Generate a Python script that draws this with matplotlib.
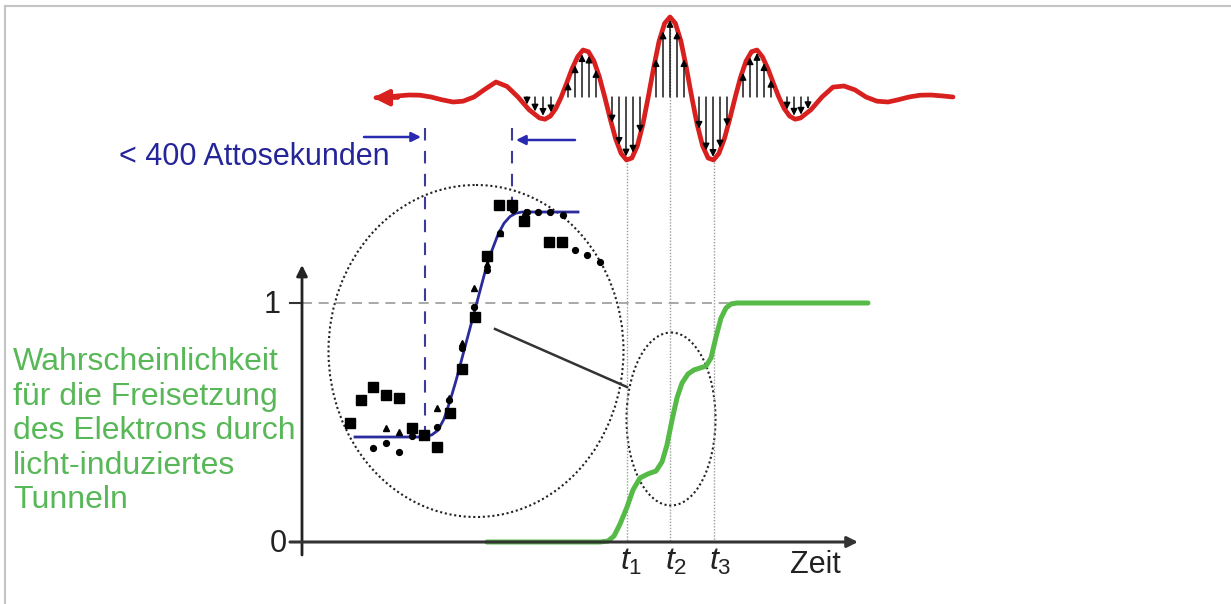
import matplotlib
matplotlib.use("Agg")
import matplotlib.pyplot as plt
import numpy as np
from matplotlib.patches import Ellipse

plt.rcParams['font.family'] = ['Liberation Sans', 'DejaVu Sans']
plt.rcParams['mathtext.fontset'] = 'custom'
plt.rcParams['mathtext.it'] = 'Liberation Sans:italic'
plt.rcParams['mathtext.rm'] = 'Liberation Sans'

# ---------------- data ----------------
# light-wave (field) samples, x = time position (px), y = field (px, 97 = zero)
wave_x = [376, 387, 398, 409, 420, 431, 442, 453, 463, 474, 485, 496, 507, 518, 529,
          539.5, 545.0, 550.4, 555.8, 561.25, 566.7, 572.1, 577.6, 583.0, 588.4, 593.9, 599.3,
          604.75, 610.2, 615.6, 621.1, 626.5, 631.9, 637.4, 642.8, 648.25, 653.7, 659.1, 664.6,
          670, 675.4, 680.9, 686.3, 691.75, 697.2, 702.6, 708.1, 713.5, 718.9, 724.4, 729.8,
          735.25, 740.7, 746.1, 751.6, 757, 762.4, 767.9, 773.3, 778.75, 784.2, 789.6, 795.1, 800.5,
          811, 822, 833, 844, 855, 866, 877, 888, 898, 909, 920, 931, 942, 953]
wave_y = [97.7, 97, 95.9, 95, 95.2, 97, 99.8, 102, 101.2, 97, 89.2, 82, 86.4, 97, 109.7,
          118, 119.2, 116.1, 108.5, 97, 83, 68.7, 56.8, 50, 51.7, 61, 76.7,
          97, 118.8, 138.7, 153.4, 160, 158, 145.8, 124.6, 97, 67.5, 41.1, 23.4,
          17, 23.4, 41.1, 67.5, 97, 124.6, 145.8, 158, 160, 153.4, 138.7, 118.8,
          97, 76.7, 61, 51.7, 50, 56.8, 68.7, 83, 97, 108.5, 116.1, 119.2, 118,
          109.7, 97, 87.1, 86, 89.9, 97, 101.2, 102, 99.8, 97, 95.2, 95, 95.9, 97]
wave_zero = 97
field_arrow_x = [527, 535, 543, 551,
                 568, 575, 582, 589, 596,
                 612, 619, 626, 633, 640,
                 656, 663, 670, 677, 684,
                 699, 706, 713, 720, 727,
                 743, 750, 757, 764, 771,
                 787, 794, 801, 808, 815]
t_marks = [627, 670, 714]
t_labels = [r'$t_1$', r'$t_2$', r'$t_3$']

# tunnelling probability (green), time in px, probability 0..1
green_t = [487, 600, 608, 614, 620, 627, 633, 640, 648, 656, 662, 667, 672, 677, 682,
           688, 694, 700, 706, 711, 716, 721, 726, 731, 737, 868]
green_p = [0, 0, 0.004, 0.025, 0.075, 0.146, 0.218, 0.268, 0.285, 0.297, 0.335, 0.406,
           0.51, 0.603, 0.665, 0.703, 0.72, 0.728, 0.736, 0.77, 0.858, 0.937, 0.979,
           0.996, 1.0, 1.0]

# inset: measured step (normalised signal 0..1)
fit_x = [355, 425, 432, 438, 444, 450, 456, 462, 468, 474, 480, 486, 492, 498, 504,
         510, 516, 522, 530, 578]
fit_s = [0, 0, 0.01, 0.03, 0.08, 0.16, 0.25, 0.35, 0.45, 0.55, 0.65, 0.75, 0.83, 0.9,
         0.95, 0.98, 0.995, 1.0, 1.0, 1.0]
sq_x = [350, 361, 373, 386, 399, 412, 424, 437, 450, 462, 475, 487, 499, 512, 524, 549, 562]
sq_s = [0.062, 0.164, 0.222, 0.187, 0.173, 0.04, 0.009, -0.044, 0.107, 0.302, 0.533,
        0.804, 1.031, 1.031, 0.96, 0.867, 0.867]
ci_x = [373, 386, 399, 412, 437, 449, 462, 474, 487, 500, 513, 527, 538, 550, 563, 575, 587, 600]
ci_s = [-0.049, -0.027, -0.067, 0.004, 0.044, 0.164, 0.396, 0.578, 0.742, 0.907, 1.009,
        1.0, 1.0, 1.0, 0.987, 0.831, 0.809, 0.778]
tr_x = [386, 399, 437, 449, 462, 474, 487, 500, 525]
tr_s = [0.04, 0.022, 0.129, 0.173, 0.418, 0.662, 0.769, 0.907, 1.0]

ylabel_lines = ['Wahrscheinlichkeit', 'für die Freisetzung', 'des Elektrons durch',
                'licht-induziertes', 'Tunneln']

# ---------------- figure ----------------
W, H = 1231, 604
fig = plt.figure(figsize=(W / 100, H / 100), dpi=100)


def overlay(ylim):
    ax = fig.add_axes([0, 0, 1, 1])
    ax.set_xlim(0, W)
    ax.set_ylim(*ylim)
    ax.axis('off')
    ax.patch.set_alpha(0)
    return ax


ax_px = overlay((H, 0))                       # pixel-like canvas
P0, P1 = 542, 303                             # probability 0 and 1 positions
ax_p = overlay(((P0 - H) / (P0 - P1), P0 / (P0 - P1)))
S0, S1 = 437, 212                             # inset signal 0 and 1 positions
ax_s = overlay(((S0 - H) / (S0 - S1), S0 / (S0 - S1)))

RED = '#d8201e'
GREEN = '#55bb46'
GREEN_TXT = '#58b858'
BLUE_TXT = '#25259a'
BLUE = '#2a2ab0'
DARK = '#222222'

# frame
ax_px.plot([5, W], [6, 6], color='#c4c4c4', lw=1.5)
ax_px.plot([5, 5], [6, H], color='#c4c4c4', lw=1.5)

# gray dotted time markers
for t in t_marks:
    top = np.interp(t, wave_x, wave_y)
    ax_px.plot([t, t], [top + 3, P0], color='#9c9c9c', lw=1, ls=(0, (1, 1.2)))

# field arrows
for x in field_arrow_x:
    wy = np.interp(x, wave_x, wave_y)
    d = np.sign(wy - wave_zero)
    tip = wy - d * 3
    if abs(tip - wave_zero) < 6:
        continue
    ax_px.annotate('', xy=(x, tip), xytext=(x, wave_zero),
                   arrowprops=dict(arrowstyle='-|>', color='black', lw=1,
                                   mutation_scale=10, shrinkA=0, shrinkB=0))

# red wave
ax_px.plot(wave_x, wave_y, color=RED, lw=3.4, solid_joinstyle='round', solid_capstyle='round')
ax_px.annotate('', xy=(wave_x[0] - 3, wave_y[0]), xytext=(wave_x[2], wave_y[0]),
               arrowprops=dict(arrowstyle='-|>', color=RED, lw=3, mutation_scale=24,
                               shrinkA=0, shrinkB=0))

# duration annotation
ax_px.plot([425, 425], [128, S0], color='#3b3b9b', lw=1.5, ls=(0, (6, 5)))
ax_px.plot([512, 512], [128, S1], color='#3b3b9b', lw=1.5, ls=(0, (6, 5)))
ax_px.annotate('', xy=(421, 137), xytext=(364, 137),
               arrowprops=dict(arrowstyle='-|>', color=BLUE, lw=1.8, mutation_scale=14,
                               shrinkA=0, shrinkB=0))
ax_px.annotate('', xy=(516, 140), xytext=(575, 140),
               arrowprops=dict(arrowstyle='-|>', color=BLUE, lw=1.8, mutation_scale=14,
                               shrinkA=0, shrinkB=0))
ax_px.text(119, 165, '< 400 Attosekunden', color=BLUE_TXT, fontsize=22,
           ha='left', va='baseline')

# ellipses and connector
ax_px.add_patch(Ellipse((476, 351), 295, 332, fill=False, ec=DARK, lw=1.5, ls=(0, (1, 1.3))))
ax_px.add_patch(Ellipse((671, 419), 89, 173, fill=False, ec=DARK, lw=1.5, ls=(0, (1, 1.3))))
ax_px.plot([495, 627], [329, 387], color='#333333', lw=1.8)

# y label (green) and tick labels
for i, line in enumerate(ylabel_lines):
    ax_px.text(13, 370 + i * 34.5, line, color=GREEN_TXT, fontsize=23, ha='left', va='baseline')
ax_px.text(272, 313, '1', color=DARK, fontsize=22, ha='center', va='baseline')
ax_px.text(278, 552, '0', color=DARK, fontsize=22, ha='center', va='baseline')
for t, lab, dx in zip(t_marks, t_labels, [4, 6, 6]):
    ax_px.text(t + dx, 570, lab, color=DARK, fontsize=23, ha='center', va='baseline')
ax_px.text(815, 573, 'Zeit', color=DARK, fontsize=22, ha='center', va='baseline')

# main axes (probability coordinates)
ax_p.plot([302, 735], [1, 1], color='#9a9a9a', lw=1.2, ls=(0, (6, 4)))
ax_p.plot([290, 302], [1, 1], color='#333333', lw=1.5)
ax_p.annotate('', xy=(302, (P0 - 265) / (P0 - P1)), xytext=(302, (P0 - 555) / (P0 - P1)),
              arrowprops=dict(arrowstyle='-|>', color=DARK, lw=2, mutation_scale=16,
                              shrinkA=0, shrinkB=0))
ax_p.annotate('', xy=(858, 0), xytext=(290, 0),
              arrowprops=dict(arrowstyle='-|>', color='#333333', lw=2.2, mutation_scale=16,
                              shrinkA=0, shrinkB=0))
ax_p.plot(green_t, green_p, color=GREEN, lw=3.6, solid_capstyle='round', solid_joinstyle='round')

# inset data (signal coordinates)
ax_s.plot(fit_x, fit_s, color='#2b2b9b', lw=2)
ax_s.plot(sq_x, sq_s, 's', color='black', ms=7, ls='none')
ax_s.plot(ci_x, ci_s, 'o', color='black', ms=4.2, ls='none')
ax_s.plot(tr_x, tr_s, '^', color='black', ms=5, ls='none')

fig.savefig('out.png', dpi=100)
